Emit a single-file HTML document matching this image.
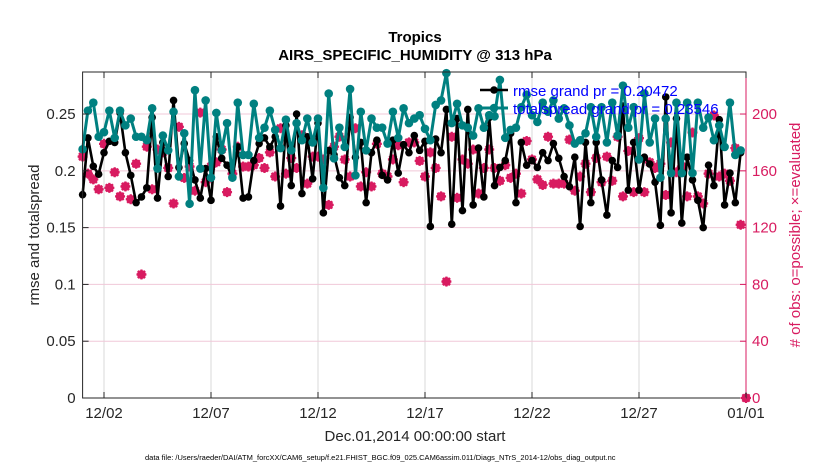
<!DOCTYPE html>
<html><head><meta charset="utf-8"><style>
body{margin:0;background:#fff;width:830px;height:470px;overflow:hidden;font-family:"Liberation Sans",sans-serif}
</style></head><body>
<svg id="chart" width="830" height="470" xmlns="http://www.w3.org/2000/svg" font-family="Liberation Sans, sans-serif"></svg>
<script>
const dayTicks=[1,6,11,16,21,26,31];
const dayTickLabels=["12/02","12/07","12/12","12/17","12/22","12/27","01/01"];
const leftTicks=[0,0.05,0.1,0.15,0.2,0.25];
const leftTickLabels=["0","0.05","0.1","0.15","0.2","0.25"];
const rightTicks=[0,40,80,120,160,200];
const rmse=[.179,.229,.204,.197,.216,.226,.225,.251,.216,.196,.172,.177,.185,.247,.176,.225,.195,.262,.203,.224,.209,.192,.176,.202,.174,.230,.211,.205,.194,.221,.176,
.177,.209,.224,.229,.221,.230,.169,.240,.187,.250,.180,.230,.193,.242,.163,.218,.214,.194,.187,.247,.212,.225,.172,.216,.227,.196,.192,.227,.198,.223,.216,
.231,.218,.226,.151,.228,.216,.254,.153,.246,.165,.254,.170,.220,.177,.247,.187,.203,.209,.233,.172,.225,.205,.209,.203,.216,.209,.224,.211,.195,.186,.212,
.151,.225,.172,.225,.192,.161,.209,.203,.257,.183,.225,.183,.212,.206,.190,.152,.265,.163,.246,.154,.212,.192,.174,.150,.205,.187,.245,.170,.198,.172,.216];
const spread=[.219,.253,.260,.230,.234,.253,.229,.253,.240,.246,.230,.230,.227,.255,.202,.231,.218,.252,.195,.233,.171,.271,.202,.262,.194,.251,.218,.242,.194,.260,.214,
.214,.259,.229,.238,.253,.236,.220,.245,.218,.242,.227,.246,.225,.246,.185,.268,.211,.238,.221,.272,.196,.252,.218,.246,.238,.238,.224,.252,.229,.255,.242,
.246,.249,.237,.227,.258,.262,.286,.242,.259,.240,.238,.231,.255,.238,.249,.248,.280,.229,.236,.238,.256,.267,.249,.243,.260,.252,.262,.246,.255,.240,.224,
.227,.233,.256,.230,.256,.225,.260,.231,.275,.238,.256,.210,.268,.225,.246,.194,.246,.198,.260,.198,.260,.198,.260,.238,.247,.227,.240,.221,.260,.214,.218];
const obsCount=[170,158,154,147,179,148,159,142,149,140,165,87,177,147,175,173,162,137,191,155,163,146,201,152,163,166,175,145,158,177,163,
163,164,169,162,173,156,190,158,169,162,185,151,170,170,168,136,177,184,168,156,190,149,159,149,179,158,156,168,178,152,180,
180,167,156,173,162,142,82,184,141,168,165,175,144,162,175,162,153,164,155,158,144,181,168,154,150,184,151,151,151,182,146,
156,165,145,169,152,170,153,184,142,174,145,183,145,166,162,165,143,180,159,163,142,187,142,137,158,199,156,158,153,176,122,0];

const L=82.6,R=746,T=72,B=398;
const xS=d=>L+d*(R-L)/31;
const yL=v=>B-v*(B-T)/0.287;
const yR=c=>B-c*(B-T)/229.6;
const svg=document.getElementById('chart');
const NS='http://www.w3.org/2000/svg';
function mk(tag,attrs,parent){const e=document.createElementNS(NS,tag);for(const k in attrs)e.setAttribute(k,attrs[k]);(parent||svg).appendChild(e);return e;}
const PINK='#d81b60';

// grid
dayTicks.forEach((d,i)=>{
 const g=mk('line',{x1:xS(d),x2:xS(d),y1:T,y2:B,stroke:'#d8d8d8','stroke-width':1});
 
 
});
rightTicks.forEach(c=>{
 const g=mk('line',{x1:L,x2:R,y1:yR(c),y2:yR(c),stroke:'#f0c8d8','stroke-width':1});
 
 
});

// obs markers
const obsG=mk('g',{});


obsCount.forEach((c,i)=>{
 const cx=xS(i*0.25),cy=yR(c);
 const g=mk('g',{stroke:PINK,'stroke-width':2.2,fill:'none'},obsG);
 
 
 mk('circle',{cx:cx,cy:cy,r:3.3},g);
 [[-5,0,5,0],[0,-5,0,5],[-3.6,-3.6,3.6,3.6],[-3.6,3.6,3.6,-3.6]].forEach(s=>mk('line',{x1:cx+s[0],y1:cy+s[1],x2:cx+s[2],y2:cy+s[3]},g));
});

function series(vals,color,lw,r,name){
 const g=mk('g',{});
 
 
 const pts=vals.map((v,i)=>xS(i*0.25).toFixed(1)+','+yL(v).toFixed(1)).join(' ');
 mk('polyline',{points:pts,fill:'none',stroke:color,'stroke-width':lw,'stroke-linejoin':'round'},g);
 vals.forEach((v,i)=>{
  const c=mk('circle',{cx:xS(i*0.25),cy:yL(v),r:r,fill:color},g);
  
  
 });
}
series(rmse,'#000',2.6,3.8,'rmse-series');
series(spread,'#008080',3,4.3,'totalspread-series');

// frame
const fr=mk('rect',{x:L,y:T,width:R-L,height:B-T,fill:'none',stroke:'#262626','stroke-width':1});


mk('line',{x1:R,x2:R,y1:T,y2:B,stroke:PINK,'stroke-width':1});

// x ticks
dayTicks.forEach((d,i)=>{
 mk('line',{x1:xS(d),x2:xS(d),y1:B,y2:B-6,stroke:'#262626'});
 mk('line',{x1:xS(d),x2:xS(d),y1:T,y2:T+6,stroke:'#262626'});
 const t=mk('text',{x:xS(d),y:B+20,'text-anchor':'middle','font-size':15,fill:'#262626'});
 t.textContent=dayTickLabels[i];
 
 
});
leftTicks.forEach((v,i)=>{
 mk('line',{x1:L,x2:L+6,y1:yL(v),y2:yL(v),stroke:'#262626'});
 const t=mk('text',{x:L-7,y:yL(v)+5,'text-anchor':'end','font-size':15,fill:'#262626'});
 t.textContent=leftTickLabels[i];
 
 
});
rightTicks.forEach(c=>{
 mk('line',{x1:R,x2:R-6,y1:yR(c),y2:yR(c),stroke:PINK});
 const t=mk('text',{x:R+6,y:yR(c)+5,'font-size':15,fill:PINK});
 t.textContent=String(c);
 
 
});
</script>
<svg width="830" height="470" style="position:absolute;left:0;top:0" font-family="Liberation Sans, sans-serif">
 <text x="415" y="42" text-anchor="middle" font-size="15" font-weight="bold" fill="#000">Tropics</text>
 <text x="415" y="60" text-anchor="middle" font-size="15" font-weight="bold" fill="#000">AIRS_SPECIFIC_HUMIDITY @ 313 hPa</text>
 <text x="415" y="441" text-anchor="middle" font-size="15" fill="#262626">Dec.01,2014 00:00:00 start</text>
 <text transform="translate(39,235) rotate(-90)" text-anchor="middle" font-size="15" fill="#262626">rmse and totalspread</text>
 <text transform="translate(800,235) rotate(-90)" text-anchor="middle" font-size="15" fill="#d81b60"># of obs: o=possible; ×=evaluated</text>
 <text x="145" y="460" font-size="7.5" fill="#000">data file: /Users/raeder/DAI/ATM_forcXX/CAM6_setup/f.e21.FHIST_BGC.f09_025.CAM6assim.011/Diags_NTrS_2014-12/obs_diag_output.nc</text>
 <g>
  <g>
   <line x1="480" y1="90" x2="508" y2="90" stroke="#000" stroke-width="2.6"/>
   <circle cx="494" cy="90" r="3.8" fill="#000"/>
   <text x="513" y="96" font-size="15" fill="#0000ff">rmse grand pr = 0.20472</text>
  </g>
  <g>
   <line x1="480" y1="108" x2="508" y2="108" stroke="#008080" stroke-width="3"/>
   <circle cx="494" cy="108" r="4.3" fill="#008080"/>
   <text x="513" y="114" font-size="15" fill="#0000ff">totalspread grand pr = 0.23546</text>
  </g>
 </g>
</svg>
</body></html>
